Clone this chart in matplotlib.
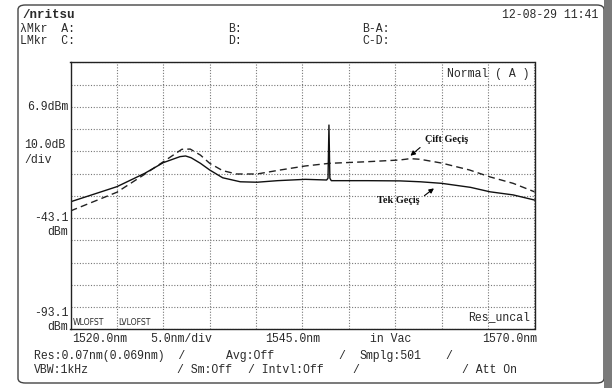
import matplotlib.pyplot as plt
from matplotlib.patches import FancyBboxPatch, Rectangle

# -------- DATA --------
tek_wl = [1520.0, 1525.0, 1528.0, 1530.0, 1531.8, 1532.4, 1533.0, 1534.0, 1535.0, 1536.4,
          1538.3, 1540.1, 1542.3, 1545.3, 1547.6, 1547.75, 1547.85, 1547.95, 1548.1,
          1552.0, 1555.5, 1557.7, 1560.0, 1563.1, 1565.2, 1567.7, 1570.0]
tek_db = [-35.8, -29.0, -23.0, -18.2, -15.5, -15.2, -16.0, -18.5, -21.5, -25.0,
          -26.8, -27.0, -26.3, -25.7, -26.0, -25.2, -1.3, -25.2, -26.3,
          -26.3, -26.4, -26.8, -27.5, -29.3, -31.3, -32.7, -35.0]

cift_wl = [1520.0, 1525.0, 1528.0, 1530.0, 1532.0, 1532.9, 1534.0, 1535.0, 1536.4, 1537.9,
           1540.1, 1542.6, 1545.3, 1547.9, 1551.9, 1555.5, 1556.6, 1557.7, 1560.0,
           1563.0, 1565.2, 1567.7, 1570.0]
cift_db = [-39.9, -31.5, -23.4, -17.8, -12.2, -12.1, -14.8, -18.5, -21.8, -23.3,
           -23.3, -21.5, -19.7, -18.5, -17.8, -17.0, -16.4, -16.7, -18.4,
           -21.5, -24.6, -27.5, -31.3]

x_min, x_max = 1520.0, 1570.0
y_top, y_bot = 26.9, -93.1

W, H = 612, 388
MONO = 'Liberation Mono'
INK = '#2a2a2a'


def fx(x):
    return x / W


def fy(y):
    return 1 - y / H


fig = plt.figure(figsize=(W / 100, H / 100), dpi=100)

# -------- SCREEN FRAME --------
frame = FancyBboxPatch((fx(18), fy(383)), fx(604) - fx(18), fy(5) - fy(383),
                       boxstyle="round,pad=0,rounding_size=0.012",
                       transform=fig.transFigure, fill=False, ec='#444444', lw=1.0)
fig.patches.append(frame)
fig.patches.append(Rectangle((fx(604), 0), fx(612) - fx(604), 1, transform=fig.transFigure,
                             fc='#7a7a7a', ec='none', hatch='....'))

# -------- PLOT AREA --------
ax = fig.add_axes([fx(70.5), fy(329.3), fx(534.5) - fx(70.5), fy(62.3) - fy(329.3)])
ax.set_xlim(x_min, x_max)
ax.set_ylim(y_bot, y_top)
ax.set_xticks([x_min + 5 * i for i in range(11)])
ax.set_yticks([y_bot + 10 * i for i in range(13)])
ax.tick_params(length=0, labelbottom=False, labelleft=False)
ax.grid(True, color='#777777', linestyle=(0, (1, 1.5)), linewidth=0.8)
for s in ax.spines.values():
    s.set_linewidth(1.0)
    s.set_color('#222222')

ax.plot(cift_wl, cift_db, color='#222222', lw=1.0, linestyle=(0, (5, 3)))
ax.plot(tek_wl, tek_db, color='#111111', lw=1.0)

# labels with arrows
serif = dict(family='Liberation Serif', fontweight='bold', fontsize=7.4, color='#111111')
ax.text(1560.5, -8.0, 'Çift Geçiş', ha='center', va='center', **serif)
ax.annotate('', xy=(1556.4, -15.9), xytext=(1557.9, -10.6),
            arrowprops=dict(arrowstyle='-|>', color='k', lw=0.8, mutation_scale=7))
ax.text(1555.3, -35.0, 'Tek Geçiş', ha='center', va='center', **serif)
ax.annotate('', xy=(1559.4, -29.0), xytext=(1557.9, -33.8),
            arrowprops=dict(arrowstyle='-|>', color='k', lw=0.8, mutation_scale=7))

# texts inside plot
ax.text(0.99, 0.955, 'Normal ( A )', transform=ax.transAxes, ha='right', va='center',
        family=MONO, fontsize=8.3, color=INK)
ax.text(0.99, 0.045, 'Res_uncal', transform=ax.transAxes, ha='right', va='center',
        family=MONO, fontsize=8.3, color=INK)
ax.text(0.004, 0.024, 'WLOFST', transform=ax.transAxes, ha='left', va='center',
        family='DejaVu Sans', fontsize=5.6, color=INK)
ax.text(0.102, 0.024, 'LVLOFST', transform=ax.transAxes, ha='left', va='center',
        family='DejaVu Sans', fontsize=5.6, color=INK)

# -------- SCREEN TEXT --------
def put(x, y, s, ha='left', size=8.3, **kw):
    fig.text(fx(x), fy(y), s, ha=ha, va='center', family=MONO, fontsize=size,
             color=INK, **kw)


put(22, 15, '/nritsu', size=9, fontweight='bold')
put(598, 15, '12-08-29 11:41', ha='right')
put(20, 29, 'λMkr  A:')
put(228, 29, 'B:')
put(362, 29, 'B-A:')
put(20, 41, 'LMkr  C:')
put(228, 41, 'D:')
put(362, 41, 'C-D:')

put(68, 107, '6.9dBm', ha='right')
put(24, 145, '10.0dB')
put(24, 160, '/div')
put(68, 218, '-43.1', ha='right')
put(68, 232, 'dBm', ha='right')
put(68, 313, '-93.1', ha='right')
put(68, 327, 'dBm', ha='right')

put(72, 339, '1520.0nm')
put(150, 339, '5.0nm/div')
put(265, 339, '1545.0nm')
put(370, 339, 'in Vac')
put(537, 339, '1570.0nm', ha='right')

put(34, 356, 'Res:0.07nm(0.069nm)  /')
put(226, 356, 'Avg:Off')
put(338, 356, '/')
put(360, 356, 'Smplg:501')
put(445, 356, '/')
put(34, 370, 'VBW:1kHz')
put(177, 370, '/ Sm:Off')
put(248, 370, '/ Intvl:Off')
put(352, 370, '/')
put(462, 370, '/ Att On')

fig.savefig('out.png', dpi=100)
